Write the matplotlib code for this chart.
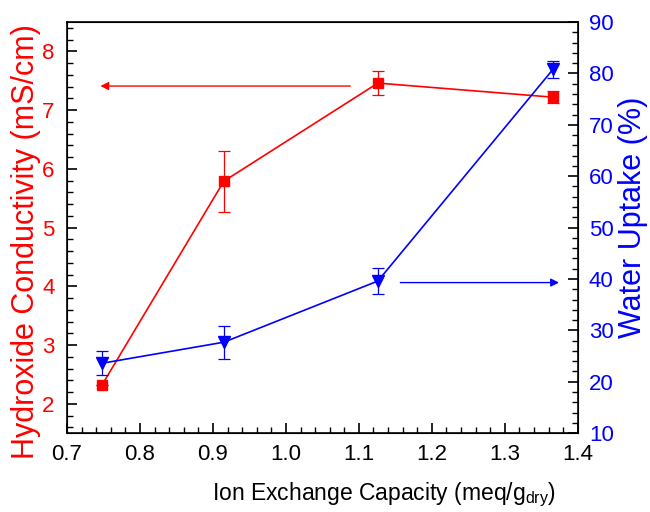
import matplotlib
matplotlib.use("Agg")
import matplotlib.pyplot as plt
from matplotlib.ticker import MultipleLocator, FormatStrFormatter

plt.rcParams['font.family'] = ['Liberation Sans', 'DejaVu Sans']
plt.rcParams['mathtext.fontset'] = 'custom'
plt.rcParams['mathtext.rm'] = 'Liberation Sans'
plt.rcParams['mathtext.it'] = 'Liberation Sans:italic'

iec = [0.748, 0.915, 1.126, 1.366]
conductivity = [2.32, 5.79, 7.46, 7.22]
cond_err = [0.0, 0.52, 0.21, 0.10]
water_uptake = [23.6, 27.7, 39.6, 80.8]
water_err = [2.3, 3.2, 2.5, 1.6]

red = '#ff0000'
blue = '#0000ff'

fig = plt.figure(figsize=(6.5, 5.12), dpi=100)
ax = fig.add_axes([0.103, 0.154, 0.786, 0.803])
ax2 = ax.twinx()

ax.errorbar(iec, conductivity, yerr=cond_err, color=red, marker='s', markersize=7,
            linewidth=1.2, elinewidth=0.9, capsize=4, capthick=0.9)
ax2.errorbar(iec, water_uptake, yerr=water_err, color=blue, marker='v', markersize=8,
             linewidth=1.2, elinewidth=0.9, capsize=4, capthick=0.9)

# arrows pointing to the matching axis
ax.annotate('', xy=(0.742, 7.41), xytext=(1.092, 7.41),
            arrowprops=dict(arrowstyle='-|>', color=red, lw=1.0, mutation_scale=12))
ax2.annotate('', xy=(1.378, 39.3), xytext=(1.153, 39.3),
             arrowprops=dict(arrowstyle='-|>', color=blue, lw=1.0, mutation_scale=12))

ax.set_xlim(0.7, 1.4)
ax.set_ylim(1.5, 8.5)
ax2.set_ylim(10, 90)

ax.xaxis.set_major_locator(MultipleLocator(0.1))
ax.xaxis.set_minor_locator(MultipleLocator(0.02))
ax.yaxis.set_major_locator(MultipleLocator(1))
ax.yaxis.set_minor_locator(MultipleLocator(0.2))
ax2.yaxis.set_major_locator(MultipleLocator(10))
ax2.yaxis.set_minor_locator(MultipleLocator(2))
ax.xaxis.set_major_formatter(FormatStrFormatter('%.1f'))

ax.tick_params(axis='both', which='both', direction='in', labelsize=16)
ax.tick_params(axis='both', which='major', length=7, width=1.2)
ax.tick_params(axis='both', which='minor', length=4, width=1.0)
ax.tick_params(axis='x', which='major', pad=8)
ax.tick_params(axis='y', which='major', pad=9, labelcolor=red)
ax2.tick_params(axis='y', which='both', direction='in', labelsize=16, labelcolor=blue)
ax2.tick_params(axis='y', which='major', length=7, width=1.2, pad=8)
ax2.tick_params(axis='y', which='minor', length=4, width=1.0)

for sp in ax2.spines.values():
    sp.set_linewidth(1.2)

ax.set_xlabel(r'Ion Exchange Capacity (meq/g$_{\mathrm{dry}}$)', fontsize=16.5)
ax.xaxis.set_label_coords(0.62, -0.115)
ax.set_ylabel('Hydroxide Conductivity (mS/cm)', fontsize=22, color=red)
ax.yaxis.set_label_coords(-0.05, 0.465)
ax2.set_ylabel('Water Uptake (%)', fontsize=22, color=blue)
ax2.yaxis.set_label_coords(1.078, 0.526)

fig.savefig('out.png', dpi=100)
